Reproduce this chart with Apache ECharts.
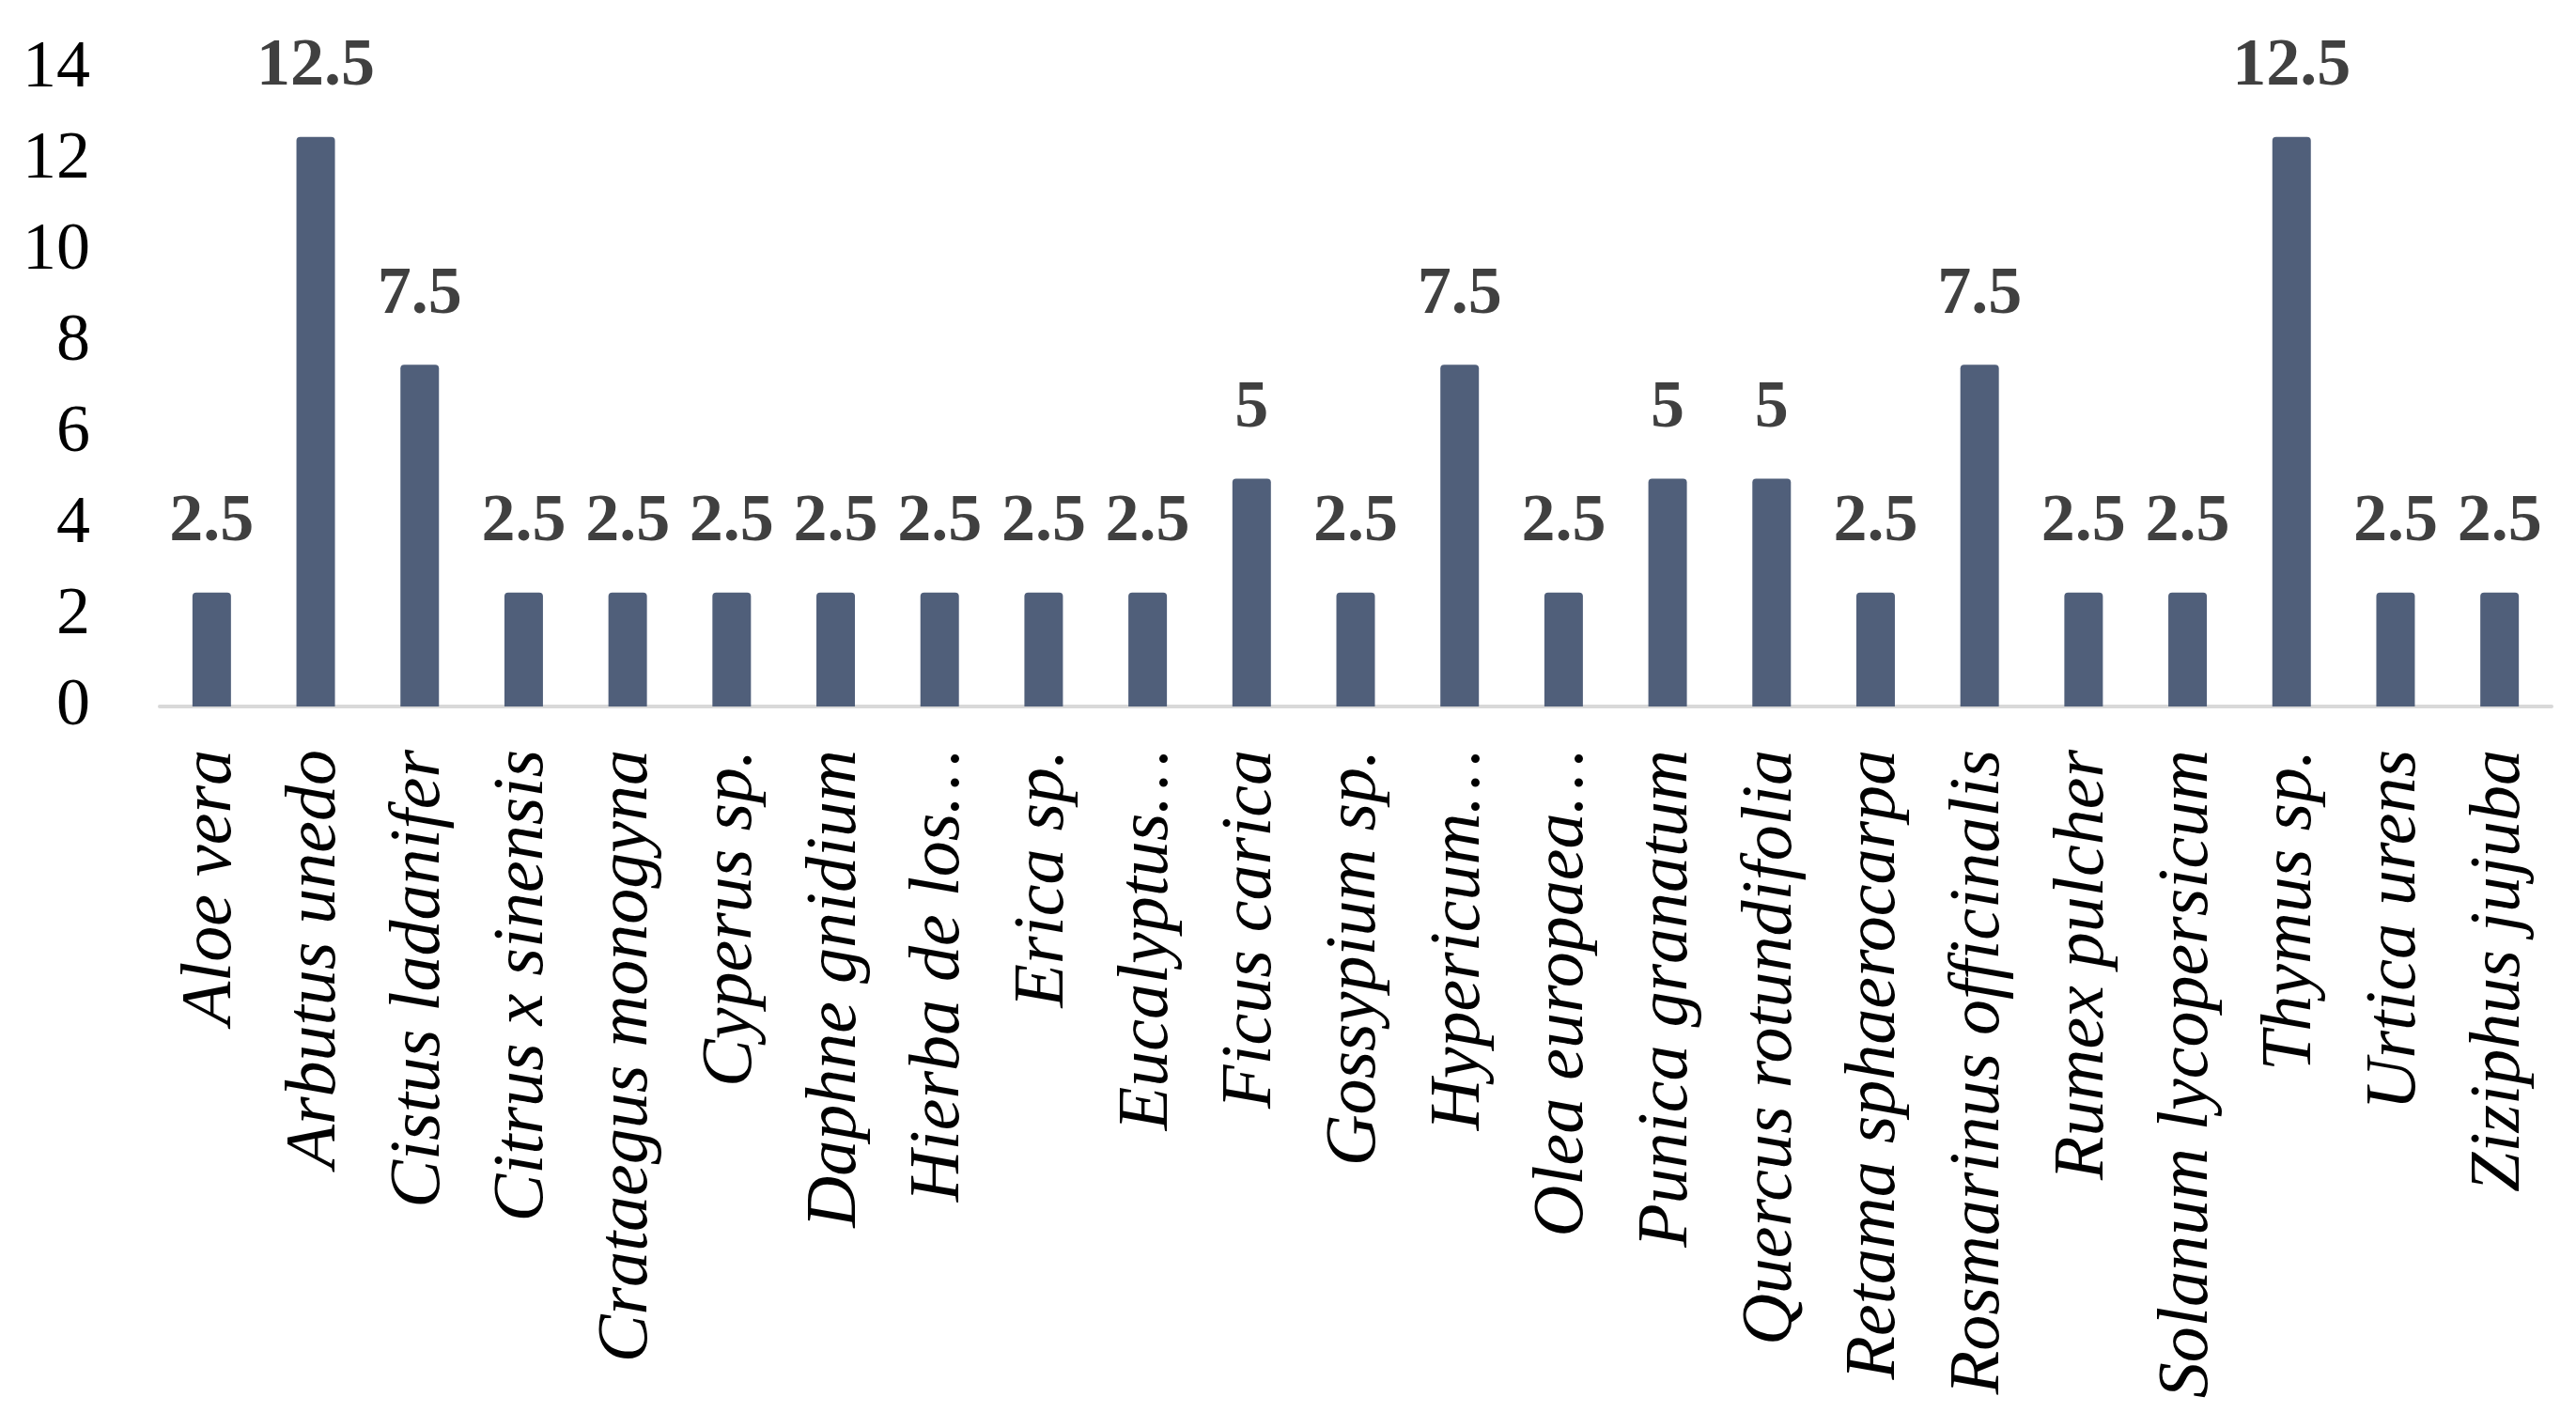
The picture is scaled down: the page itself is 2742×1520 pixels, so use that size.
<!DOCTYPE html>
<html>
<head>
<meta charset="utf-8">
<title>Species bar chart</title>
<script src="https://cdn.jsdelivr.net/npm/echarts@6/dist/echarts.min.js"></script>
<style>
  html, body { margin: 0; padding: 0; background: #fff; }
  #barCharts { width: 2742px; height: 1520px; }
</style>
</head>
<body>
<div id="barCharts"></div>
<script>
// categories as printed under the axis (long names are cut off with an ellipsis in the source)
const species = [
  'Aloe vera', 'Arbutus unedo', 'Cistus ladanifer', 'Citrus x sinensis',
  'Crataegus monogyna', 'Cyperus sp.', 'Daphne gnidium', 'Hierba de los…',
  'Erica sp.', 'Eucalyptus…', 'Ficus carica', 'Gossypium sp.', 'Hypericum…',
  'Olea europaea…', 'Punica granatum', 'Quercus rotundifolia', 'Retama sphaerocarpa',
  'Rosmarinus officinalis', 'Rumex pulcher', 'Solanum lycopersicum', 'Thymus sp.',
  'Urtica urens', 'Ziziphus jujuba'
];
const values = [
  2.5, 12.5, 7.5, 2.5,
  2.5, 2.5, 2.5, 2.5,
  2.5, 2.5, 5, 2.5, 7.5,
  2.5, 5, 5, 2.5,
  7.5, 2.5, 2.5, 12.5,
  2.5, 2.5
];
const yMin = 0;
const yMax = 14;
const yStep = 2;

const serif = "'Palatino Linotype', 'Book Antiqua', Palatino, 'Liberation Serif', serif";

const myChart = echarts.init(document.getElementById('barCharts'));

myChart.setOption({
  animation: false,
  grid: {
    left: 170,
    right: 26,
    top: 73,
    bottom: 768
  },
  xAxis: {
    type: 'category',
    data: species,
    axisLine: {
      show: true,
      lineStyle: { color: '#d9d9d9', width: 4 }
    },
    axisTick: { show: false },
    axisLabel: {
      interval: 0,
      rotate: 90,
      margin: 46,
      fontFamily: serif,
      fontStyle: 'italic',
      fontSize: 76,
      color: '#000'
    }
  },
  yAxis: {
    type: 'value',
    min: yMin,
    max: yMax,
    interval: yStep,
    axisLine: { show: false },
    axisTick: { show: false },
    splitLine: { show: false },
    axisLabel: {
      margin: 74,
      fontFamily: serif,
      fontSize: 72,
      color: '#000'
    }
  },
  series: [
    {
      type: 'bar',
      data: values,
      barWidth: 41,
      itemStyle: {
        color: '#505f7a',
        borderRadius: [4, 4, 0, 0]
      },
      label: {
        show: true,
        position: 'top',
        distance: 38,
        fontFamily: serif,
        fontWeight: 'bold',
        fontSize: 72,
        color: '#404040'
      }
    }
  ]
});
</script>
</body>
</html>
